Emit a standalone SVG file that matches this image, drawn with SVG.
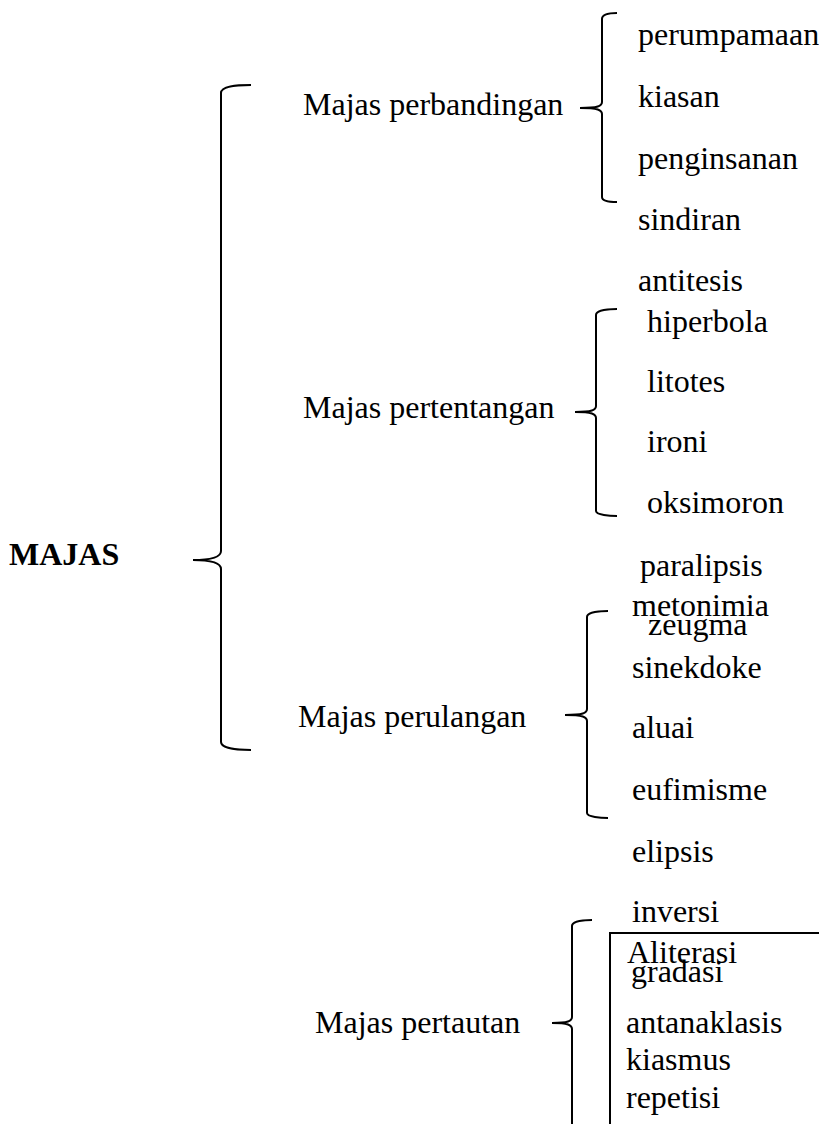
<svg xmlns="http://www.w3.org/2000/svg" width="819" height="1124" viewBox="0 0 819 1124">
<style>
text{font-family:"Liberation Serif","Times New Roman",serif;font-size:32px;fill:#000}
.b{font-weight:bold}
.br{fill:none;stroke:#000;stroke-width:2}
.bx{fill:none;stroke:#000;stroke-width:2}
</style>
<rect width="819" height="1124" fill="#fff"/>
<g id="connectors">
<path class="br" d="M251,85 C236,85 221,86 221,93 L221,551 C221,556 214,560 193,560 C214,560 221,564 221,569 L221,742 C221,748 236,750 251,750"/>
<path class="br" d="M617,13 C610,13 602,14 602,19 L602,102 C602,106 598,108 580,108 C598,108 602,110 602,114 L602,197 C602,201 610,202 617,202"/>
<path class="br" d="M617,309 C610,309 596,310 596,315 L596,406 C596,410 592,412 575,412 C592,412 596,414 596,418 L596,511 C596,515 610,516 617,516"/>
<path class="br" d="M608,611 C601,611 587,612 587,617 L587,709 C587,713 583,715 565,715 C583,715 587,717 587,721 L587,813 C587,817 601,818 608,818"/>
<path class="br" d="M592,920 C585,920 572,921 572,926 L572,1017 C572,1021 568,1023 552,1023 C568,1023 572,1025 572,1029 L572,1124"/>
<path class="bx" d="M610,1124 L610,933 L819,933"/>
</g>
<g id="root"><text class="b" x="9" y="565">MAJAS</text></g>
<g id="perbandingan"><text x="303" y="115">Majas perbandingan</text></g>
<g id="pertentangan"><text x="303" y="418">Majas pertentangan</text></g>
<g id="perulangan"><text x="298" y="727">Majas perulangan</text></g>
<g id="pertautan"><text x="315" y="1033">Majas pertautan</text></g>
<g id="items1">
<text x="638" y="45">perumpamaan</text>
<text x="638" y="107">kiasan</text>
<text x="638" y="169">penginsanan</text>
<text x="638" y="230">sindiran</text>
<text x="638" y="291">antitesis</text>
</g>
<g id="items2">
<text x="647" y="332">hiperbola</text>
<text x="647" y="392">litotes</text>
<text x="647" y="452">ironi</text>
<text x="647" y="513">oksimoron</text>
<text x="640" y="576">paralipsis</text>
</g>
<g id="items3">
<text x="632" y="616">metonimia</text>
<text x="648" y="635">zeugma</text>
<text x="632" y="678">sinekdoke</text>
<text x="632" y="738">aluai</text>
<text x="632" y="800">eufimisme</text>
<text x="632" y="862">elipsis</text>
</g>
<g id="items4">
<text x="632" y="922">inversi</text>
<text x="627" y="963">Aliterasi</text>
<text x="631" y="982">gradasi</text>
<text x="626" y="1033">antanaklasis</text>
<text x="626" y="1070">kiasmus</text>
<text x="626" y="1108">repetisi</text>
</g>
</svg>
